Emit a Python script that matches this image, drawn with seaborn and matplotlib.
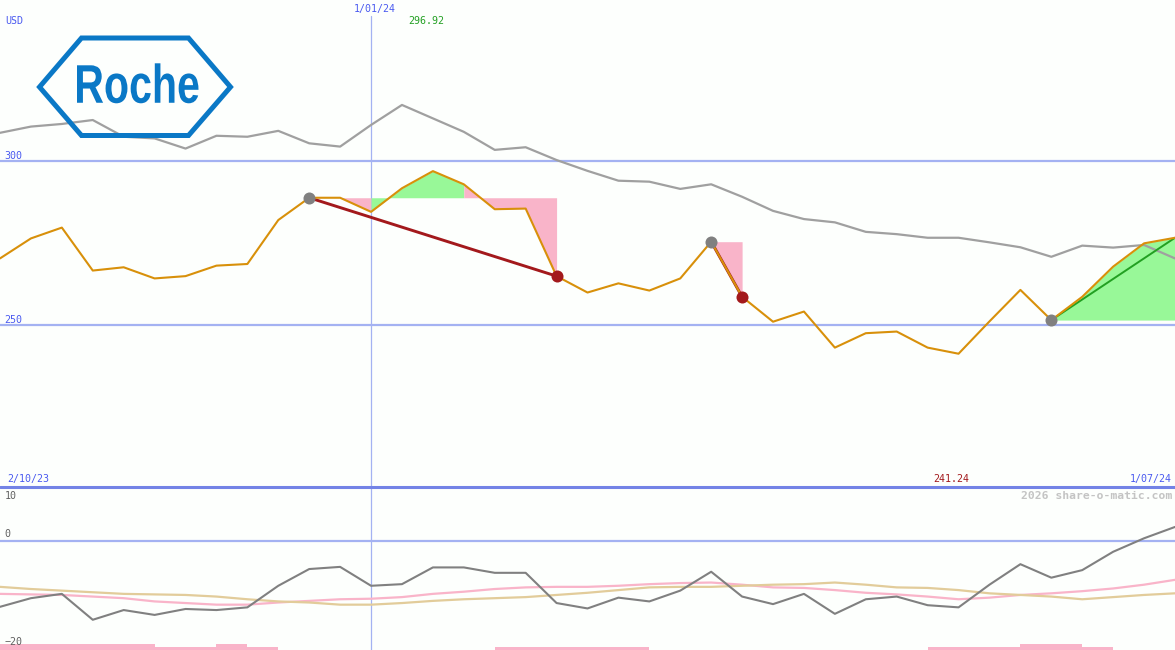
import numpy as np
import pandas as pd
import matplotlib
matplotlib.use("Agg")
import matplotlib.pyplot as plt
import matplotlib.transforms as mtransforms
from matplotlib.patches import Polygon, PathPatch
from matplotlib.textpath import TextPath
from matplotlib.font_manager import FontProperties
import seaborn as sns

# ---------------- data ----------------
price = [270.3, 276.4, 279.7, 266.6, 267.6, 264.2, 264.9, 268.1, 268.6, 282.0,
         288.8, 288.8, 284.5, 291.7, 296.92, 292.9, 285.3, 285.5, 264.9, 259.9,
         262.7, 260.5, 264.2, 275.4, 258.6, 251.0, 254.1, 243.1, 247.5, 248.0,
         243.1, 241.24, 251.1, 260.7, 251.5, 258.6, 267.8, 274.9, 276.6]
compare = [308.6, 310.5, 311.3, 312.5, 307.4, 306.9, 303.8, 307.7, 307.4, 309.2,
           305.4, 304.4, 311.0, 317.1, 313.0, 308.9, 303.4, 304.2, 300.3, 297.0,
           294.0, 293.7, 291.5, 292.9, 289.1, 284.8, 282.3, 281.3, 278.4, 277.7,
           276.6, 276.6, 275.2, 273.7, 270.8, 274.2, 273.6, 274.4, 270.3]
momentum = [-12.2, -10.6, -9.8, -14.6, -12.8, -13.7, -12.6, -12.8, -12.3, -8.3,
            -5.2, -4.8, -8.3, -8.0, -4.9, -4.9, -5.9, -5.9, -11.5, -12.5,
            -10.5, -11.2, -9.2, -5.7, -10.3, -11.7, -9.8, -13.5, -10.8, -10.3,
            -11.9, -12.3, -8.1, -4.3, -6.8, -5.4, -2.0, 0.5, 2.6]
pink_avg = [-9.8, -9.9, -10.0, -10.3, -10.6, -11.2, -11.5, -11.8, -11.8, -11.4,
            -11.1, -10.8, -10.7, -10.4, -9.8, -9.4, -8.9, -8.6, -8.5, -8.5,
            -8.3, -8.0, -7.8, -7.7, -8.1, -8.6, -8.7, -9.1, -9.6, -9.9,
            -10.3, -10.8, -10.5, -10.0, -9.7, -9.3, -8.8, -8.1, -7.2]
tan_avg = [-8.5, -8.9, -9.2, -9.5, -9.8, -9.9, -10.0, -10.3, -10.8, -11.2,
           -11.4, -11.8, -11.8, -11.5, -11.1, -10.8, -10.6, -10.4, -10.0, -9.6,
           -9.1, -8.6, -8.5, -8.5, -8.3, -8.1, -8.0, -7.7, -8.1, -8.6,
           -8.7, -9.1, -9.7, -10.0, -10.3, -10.8, -10.4, -10.0, -9.7]
signal_level = [2, 2, 2, 2, 2, 1, 1, 2, 1, 0,
                0, 0, 0, 0, 0, 0, 1, 1, 1, 1,
                1, 0, 0, 0, 0, 0, 0, 0, 0, 0,
                1, 1, 1, 2, 2, 1, 0, 0, 0]
trade_entries = [10, 23, 34]
trade_exits = [18, 24, 38]
trade_closed = [True, True, False]
date_idx = [0, 12, 38]
date_labels = ["2/10/23", "1/01/24", "1/07/24"]
main_ticks = [300, 250]
low_ticks = [10, 0, -20]
currency = "USD"
company = "Roche"
watermark = "2026 share-o-matic.com"

# ---------------- style ----------------
BG = "#fdfffd"
ORANGE = "#d8900a"
GRAY = "#a0a0a0"
DGRAY = "#808080"
PINK = "#f9b4c9"
GREEN_FILL = "#98f898"
DARKRED = "#a3191c"
GREEN_LINE = "#22a022"
TAN = "#e2cc9a"
GRID = "#a4b2f2"
BORDER = "#7383e6"
BLUE_TXT = "#4a5af0"
LOGO = "#0a78c6"

sns.set_theme(style="white")
plt.rcParams["font.family"] = ["DejaVu Sans Mono", "DejaVu Sans"]

W, H = 1175, 650
fig = plt.figure(figsize=(W / 100, H / 100), dpi=100, facecolor=BG)
split = 163 / H
ax = fig.add_axes([0, split, 1, 1 - split])
axl = fig.add_axes([0, 0, 1, split])
for a in (ax, axl):
    a.set_facecolor(BG)
    a.set_axis_off()

n = len(price)
x = np.arange(n)
df = pd.DataFrame({"x": x, "price": price, "compare": compare, "momentum": momentum,
                   "pink": pink_avg, "tan": tan_avg, "signal": signal_level})

# ---------------- main panel ----------------
ax.set_xlim(0, n - 1)
ax.set_ylim(200.6, 349.1)
for t in main_ticks:
    ax.axhline(t, color=GRID, lw=1.6, zorder=1)
ax.axvline(date_idx[1], ymin=0, ymax=(487 - 16) / 487, color=GRID, lw=0.9, zorder=1)

# trade fills: contiguous runs coloured by whether the segment ends above the entry level
for a0, b0 in zip(trade_entries, trade_exits):
    level = price[a0]
    cols = [GREEN_FILL if price[i + 1] >= level else PINK for i in range(a0, b0)]
    start = a0
    for k in range(1, len(cols) + 1):
        if k == len(cols) or cols[k] != cols[k - 1]:
            end = a0 + k
            xs = list(range(start, end + 1))
            ax.fill_between(xs, [price[i] for i in xs], level,
                            color=cols[k - 1], lw=0, zorder=2)
            start = end

sns.lineplot(data=df, x="x", y="compare", ax=ax, color=GRAY, lw=1.6,
             estimator=None, zorder=3)

for a0, b0 in zip(trade_entries, trade_exits):
    col = GREEN_LINE if price[b0] >= price[a0] else DARKRED
    lw = 1.4 if col == GREEN_LINE else 2.1
    ax.plot([a0, b0], [price[a0], price[b0]], color=col, lw=lw, zorder=4)

sns.lineplot(data=df, x="x", y="price", ax=ax, color=ORANGE, lw=1.5,
             estimator=None, zorder=5)

sns.scatterplot(x=trade_entries, y=[price[i] for i in trade_entries], ax=ax,
                color=DGRAY, s=75, linewidth=0, zorder=6)
ex = [e for e, c in zip(trade_exits, trade_closed) if c]
sns.scatterplot(x=ex, y=[price[i] for i in ex], ax=ax,
                color=DARKRED, s=75, linewidth=0, zorder=6)
ax.set_axis_off()

# ---------------- lower panel ----------------
axl.set_xlim(0, n - 1)
axl.set_ylim(-20.2, 10.0)
axl.axhline(0, color=GRID, lw=1.6, zorder=1)
axl.axhline(10.0, color=BORDER, lw=2.2, zorder=7, clip_on=False)
axl.axvline(date_idx[1], color=GRID, lw=0.9, zorder=1)
heights = [lv * 0.56 for lv in signal_level]
axl.bar(x, heights, width=1.0, align="edge", bottom=-20.2, color=PINK, lw=0, zorder=2)
sns.lineplot(data=df, x="x", y="pink", ax=axl, color=PINK, lw=1.6, estimator=None, zorder=3)
sns.lineplot(data=df, x="x", y="tan", ax=axl, color=TAN, lw=1.6, estimator=None, zorder=3)
sns.lineplot(data=df, x="x", y="momentum", ax=axl, color=DGRAY, lw=1.5, estimator=None, zorder=4)
axl.set_axis_off()

# ---------------- text ----------------
FS = 7.2
bl = mtransforms.blended_transform_factory(ax.transAxes, ax.transData)
for t in main_ticks:
    ax.annotate(str(t), xy=(0.004, t), xycoords=bl, xytext=(0, 3.6), textcoords="offset points",
                ha="left", va="center", fontsize=FS, color=BLUE_TXT)
bll = mtransforms.blended_transform_factory(axl.transAxes, axl.transData)
low_offsets = {10: -6.5, 0: 5.0, -20: 5.6}
for t in low_ticks:
    axl.annotate(str(t).replace("-", "\u2212"), xy=(0.004, t if t > -20 else -20.2), xycoords=bll,
                 xytext=(0, low_offsets[t]), textcoords="offset points",
                 ha="left", va="center", fontsize=FS, color="#606060")

fig.text(5 / W, 1 - 21 / H, currency, ha="left", va="center", fontsize=FS, color=BLUE_TXT)

# date labels
ax.annotate(date_labels[0], xy=(0, 200.6), xycoords="data", xytext=(5.5, 5.8),
            textcoords="offset points", ha="left", va="center", fontsize=FS, color=BLUE_TXT)
ax.annotate(date_labels[2], xy=(n - 1, 200.6), xycoords="data", xytext=(-2.2, 5.8),
            textcoords="offset points", ha="right", va="center", fontsize=FS, color=BLUE_TXT)
ax.annotate(date_labels[1], xy=(date_idx[1], 349.1), xycoords="data", xytext=(2.5, -6.5),
            textcoords="offset points", ha="center", va="center", fontsize=FS, color=BLUE_TXT)

# high / low
ih = int(np.argmax(price))
il = int(np.argmin(price))
ax.annotate(f"{price[ih]:.2f}", xy=(ih, 349.1), xycoords="data", xytext=(8, -15),
            textcoords="offset points", ha="right", va="center", fontsize=FS, color="#23a023")
ax.annotate(f"{price[il]:.2f}", xy=(il, 200.6), xycoords="data", xytext=(8, 5.8),
            textcoords="offset points", ha="right", va="center", fontsize=FS, color=DARKRED)

fig.text(1172 / W, 1 - 496 / H, watermark, ha="right", va="center", fontsize=8.2,
         fontweight="bold", color="#c4c4c4")

# ---------------- logo ----------------
lg = fig.add_axes([0, 0, 1, 1], facecolor="none")
lg.set_xlim(0, W)
lg.set_ylim(H, 0)
lg.set_axis_off()
hexv = [(39.5, 87), (81.5, 38), (188.5, 38), (230.5, 87), (188.5, 135.5), (81.5, 135.5)]
lg.add_patch(Polygon(hexv, closed=True, fill=False, edgecolor=LOGO, lw=3.6, joinstyle="miter"))
fp = FontProperties(family=["Liberation Sans Narrow", "Liberation Sans", "DejaVu Sans"], weight="bold")
tp = TextPath((0, 0), company, size=100, prop=fp)
ext = tp.get_extents()
sx = (198.5 - 77) / ext.width
sy = (103.3 - 63.3) / ext.height
tr = mtransforms.Affine2D().translate(-ext.x0, -ext.y0).scale(sx, -sy).translate(77, 103.3)
lg.add_patch(PathPatch(tr.transform_path(tp), facecolor=LOGO, edgecolor="none"))

fig.savefig("out.png", dpi=100, facecolor=BG)
